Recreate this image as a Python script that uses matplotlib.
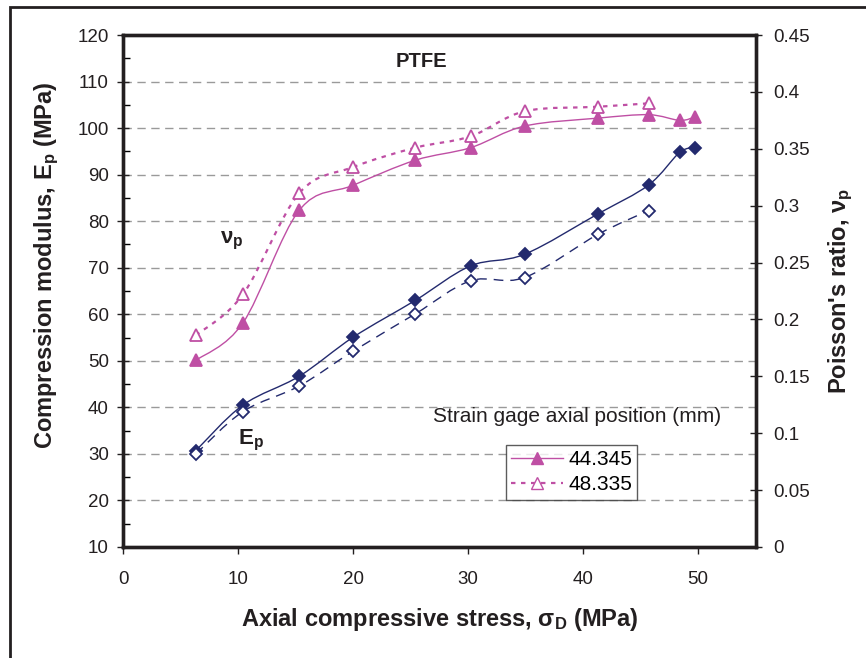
import matplotlib
matplotlib.use("Agg")
import matplotlib.pyplot as plt
from matplotlib.path import Path
from matplotlib.patches import PathPatch, Rectangle
from matplotlib.lines import Line2D
from matplotlib.ticker import MultipleLocator
import numpy as np

plt.rcParams['font.family'] = ['Liberation Sans', 'DejaVu Sans']
plt.rcParams['mathtext.fontset'] = 'custom'
plt.rcParams['mathtext.rm'] = 'Liberation Sans'
plt.rcParams['mathtext.bf'] = 'Liberation Sans:bold'
plt.rcParams['mathtext.it'] = 'Liberation Sans:italic'

# stress (MPa)
stress = [6.3, 10.4, 15.3, 20.0, 25.4, 30.2, 34.9, 41.3, 45.7, 48.4, 49.7]
stress_b = [6.3, 10.4, 15.3, 20.0, 25.4, 30.2, 34.9, 41.3, 45.7]

# compression modulus Ep (MPa)
ep_44 = [30.7, 40.5, 46.7, 55.1, 63.0, 70.4, 72.9, 81.6, 87.8, 94.8, 95.7]
ep_48 = [30.0, 39.1, 44.6, 52.1, 60.1, 67.2, 67.9, 77.2, 82.3]

# Poisson's ratio
nu_44 = [0.164, 0.197, 0.296, 0.318, 0.340, 0.351, 0.370, 0.377, 0.380, 0.375, 0.378]
nu_48 = [0.186, 0.222, 0.311, 0.334, 0.351, 0.361, 0.383, 0.387, 0.390]

positions = ["44.345", "48.335"]

navy = "#232a6e"
pink = "#bf4fa4"
ink = "#231f20"


def smooth_path(xs, ys):
    # catmull-rom style bezier through the points (like excel smoothed lines)
    pts = np.column_stack([xs, ys]).astype(float)
    n = len(pts)
    verts = [pts[0]]
    codes = [Path.MOVETO]
    for i in range(n - 1):
        p0 = pts[i - 1] if i > 0 else pts[i]
        p1 = pts[i]
        p2 = pts[i + 1]
        p3 = pts[i + 2] if i + 2 < n else pts[i + 1]
        c1 = p1 + (p2 - p0) / 6.0
        c2 = p2 - (p3 - p1) / 6.0
        verts += [c1, c2, p2]
        codes += [Path.CURVE4] * 3
    return Path(verts, codes)


def draw_series(ax, xs, ys, color, ls, lw, marker, ms, filled):
    ax.add_patch(PathPatch(smooth_path(xs, ys), facecolor="none", edgecolor=color,
                           linestyle=ls, linewidth=lw, zorder=3))
    ax.plot(xs, ys, linestyle="none", marker=marker, markersize=ms,
            markerfacecolor=color if filled else "white", markeredgecolor=color,
            markeredgewidth=1.3, zorder=4)


fig = plt.figure(figsize=(8.66, 6.58), dpi=100)
ax = fig.add_axes([0.1425, 0.1687, 0.730, 0.778])
ax2 = ax.twinx()

# outer frame
fig.patches.append(Rectangle((10 / 866, -0.1), 1.2, 1 - 7 / 658 + 0.1, transform=fig.transFigure,
                             fill=False, edgecolor=ink, linewidth=2.0))

ax.set_xlim(0, 55)
ax.set_ylim(10, 120)
ax2.set_ylim(0, 0.45)

for y in range(20, 120, 10):
    ax.axhline(y, color="#9a9a9a", linestyle=(0, (6, 4)), linewidth=1.0, zorder=1)

draw_series(ax, stress, ep_44, navy, "-", 1.0, "D", 6.5, True)
draw_series(ax, stress_b, ep_48, navy, (0, (7, 5)), 1.0, "D", 6.0, False)
draw_series(ax2, stress, nu_44, pink, "-", 1.0, "^", 8, True)
draw_series(ax2, stress_b, nu_48, pink, (0, (2, 2.5)), 1.6, "^", 8, False)

ax.xaxis.set_major_locator(MultipleLocator(10))
ax.yaxis.set_major_locator(MultipleLocator(10))
ax.yaxis.set_minor_locator(MultipleLocator(5))
ax2.set_yticks(np.arange(0, 0.451, 0.05))
ax2.set_yticklabels(["0", "0.05", "0.1", "0.15", "0.2", "0.25", "0.3", "0.35", "0.4", "0.45"])

ax.tick_params(axis="y", which="major", direction="inout", length=9, width=1.0,
               labelsize=13.5, colors=ink, pad=6)
ax.tick_params(axis="y", which="minor", direction="in", length=5, width=1.0)
ax.tick_params(axis="x", which="major", direction="out", length=5, width=1.0,
               labelsize=13.5, colors=ink, pad=12)
ax2.tick_params(axis="y", which="major", direction="inout", length=9, width=1.0,
                labelsize=13.5, colors=ink, pad=8)

for a in (ax, ax2):
    for s in a.spines.values():
        s.set_linewidth(2.4)
        s.set_color(ink)

ax.set_xlabel("Axial compressive stress, σ$_\\mathbf{D}$ (MPa)", fontsize=17,
              fontweight="bold", labelpad=13, color=ink)
ax.set_ylabel("Compression modulus, E$_\\mathbf{p}$ (MPa)", fontsize=17,
              fontweight="bold", labelpad=12, color=ink)
ax.yaxis.label.set_y(0.55)
ax2.set_ylabel("Poisson's ratio, ν$_\\mathbf{p}$", fontsize=17,
               fontweight="bold", labelpad=12, color=ink)

ax.text(25.9, 114.3, "PTFE", fontsize=14.5, fontweight="bold", ha="center", va="center",
        color=ink)
ax.text(9.4, 75.8, "ν$_\\mathbf{p}$", fontsize=16, fontweight="bold", ha="center",
        va="center", color=ink)
ax.text(11.1, 33.0, "E$_\\mathbf{p}$", fontsize=16, fontweight="bold", ha="center",
        va="center", color=ink)
ax.text(39.5, 38.1, "Strain gage axial position (mm)", fontsize=15, ha="center",
        va="center", color=ink)

handles = [
    Line2D([], [], color=pink, linestyle="-", linewidth=1.0, marker="^", markersize=8,
           markerfacecolor=pink, markeredgecolor=pink),
    Line2D([], [], color=pink, linestyle=(0, (2, 2.5)), linewidth=1.6, marker="^",
           markersize=8, markerfacecolor="white", markeredgecolor=pink),
]
leg = ax2.legend(handles, positions, loc="center", bbox_to_anchor=(0.709, 0.146),
                 fontsize=15, frameon=True, fancybox=False, handlelength=2.5,
                 borderpad=0.25, labelspacing=0.3, handletextpad=0.25, borderaxespad=0)
leg.get_frame().set_edgecolor("#333333")
leg.get_frame().set_linewidth(1.0)

fig.savefig("out.png", dpi=100)
